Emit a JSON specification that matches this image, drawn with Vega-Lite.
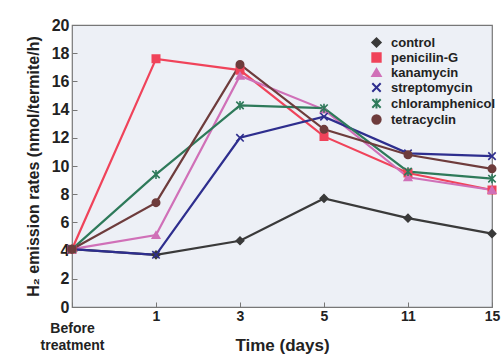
{
  "$schema": "https://vega.github.io/schema/vega-lite/v6.json",
  "width": 420,
  "height": 282,
  "autosize": {"type": "none"},
  "padding": {"left": 72, "top": 25, "right": 11, "bottom": 53},
  "background": "white",
  "config": {
    "font": "Liberation Sans, sans-serif",
    "view": {"fill": "#edf0f6", "stroke": "#777777", "strokeWidth": 1.2}
  },
  "data": {
    "values": [
      {"t": "Before", "s": "control", "v": 4.1},
      {"t": "1", "s": "control", "v": 3.7},
      {"t": "3", "s": "control", "v": 4.7},
      {"t": "5", "s": "control", "v": 7.7},
      {"t": "11", "s": "control", "v": 6.3},
      {"t": "15", "s": "control", "v": 5.2},
      {"t": "Before", "s": "penicilin-G", "v": 4.1},
      {"t": "1", "s": "penicilin-G", "v": 17.6},
      {"t": "3", "s": "penicilin-G", "v": 16.8},
      {"t": "5", "s": "penicilin-G", "v": 12.1},
      {"t": "11", "s": "penicilin-G", "v": 9.5},
      {"t": "15", "s": "penicilin-G", "v": 8.3},
      {"t": "Before", "s": "kanamycin", "v": 4.1},
      {"t": "1", "s": "kanamycin", "v": 5.1},
      {"t": "3", "s": "kanamycin", "v": 16.4},
      {"t": "5", "s": "kanamycin", "v": 14.0},
      {"t": "11", "s": "kanamycin", "v": 9.2},
      {"t": "15", "s": "kanamycin", "v": 8.3},
      {"t": "Before", "s": "streptomycin", "v": 4.1},
      {"t": "1", "s": "streptomycin", "v": 3.7},
      {"t": "3", "s": "streptomycin", "v": 12.0},
      {"t": "5", "s": "streptomycin", "v": 13.5},
      {"t": "11", "s": "streptomycin", "v": 10.9},
      {"t": "15", "s": "streptomycin", "v": 10.7},
      {"t": "Before", "s": "chloramphenicol", "v": 4.1},
      {"t": "1", "s": "chloramphenicol", "v": 9.4},
      {"t": "3", "s": "chloramphenicol", "v": 14.3},
      {"t": "5", "s": "chloramphenicol", "v": 14.1},
      {"t": "11", "s": "chloramphenicol", "v": 9.6},
      {"t": "15", "s": "chloramphenicol", "v": 9.1},
      {"t": "Before", "s": "tetracyclin", "v": 4.1},
      {"t": "1", "s": "tetracyclin", "v": 7.4},
      {"t": "3", "s": "tetracyclin", "v": 17.2},
      {"t": "5", "s": "tetracyclin", "v": 12.6},
      {"t": "11", "s": "tetracyclin", "v": 10.8},
      {"t": "15", "s": "tetracyclin", "v": 9.8}
    ]
  },
  "encoding": {
    "x": {
      "field": "t",
      "type": "ordinal",
      "sort": ["Before", "1", "3", "5", "11", "15"],
      "scale": {"type": "point", "padding": 0},
      "axis": {
        "title": "Time  (days)",
        "titleFontSize": 17,
        "titleFontWeight": "bold",
        "titleColor": "#222",
        "titlePadding": -15,
        "labelAngle": 0,
        "labelFontSize": 14,
        "labelFontWeight": "bold",
        "labelColor": "#222",
        "labelLineHeight": 17,
        "labelPadding": {"condition": {"test": "datum.value == 'Before'", "value": 19}, "value": 7},
        "labelExpr": "datum.value == 'Before' ? ['Before', 'treatment'] : datum.value",
        "tickSize": -5,
        "tickColor": "#777",
        "domain": false,
        "grid": false
      }
    },
    "y": {
      "field": "v",
      "type": "quantitative",
      "scale": {"domain": [0, 20], "nice": false},
      "axis": {
        "title": "H₂ emission rates  (nmol/termite/h)",
        "titleFontSize": 16,
        "titleFontWeight": "bold",
        "titleColor": "#222",
        "titlePadding": 10,
        "values": [0, 2, 4, 6, 8, 10, 12, 14, 16, 18, 20],
        "labelFontSize": 16,
        "labelFontWeight": "bold",
        "labelColor": "#222",
        "labelPadding": 8,
        "tickSize": -5,
        "tickColor": "#777",
        "domain": false,
        "grid": false
      }
    },
    "color": {
      "field": "s",
      "type": "nominal",
      "sort": ["control", "penicilin-G", "kanamycin", "streptomycin", "chloramphenicol", "tetracyclin"],
      "scale": {
        "domain": ["control", "penicilin-G", "kanamycin", "streptomycin", "chloramphenicol", "tetracyclin"],
        "range": ["#3a3a3a", "#f0435a", "#d070b8", "#2e2e8e", "#2e7a5a", "#6e3c3c"]
      },
      "legend": {
        "title": null,
        "orient": "none",
        "legendX": 298,
        "legendY": 11,
        "labelFontSize": 13,
        "labelFontWeight": "bold",
        "labelColor": "#222",
        "rowPadding": -2,
        "symbolSize": 70,
        "symbolStrokeWidth": 2,
        "labelOffset": 8
      }
    }
  },
  "layer": [
    {
      "mark": {"type": "line", "strokeWidth": 2.2},
      "encoding": {"detail": {"field": "s"}}
    },
    {
      "mark": {"type": "point", "filled": true, "size": 55, "strokeWidth": 1.6, "opacity": 1},
      "encoding": {
        "shape": {
          "field": "s",
          "type": "nominal",
          "sort": ["control", "penicilin-G", "kanamycin", "streptomycin", "chloramphenicol", "tetracyclin"],
          "scale": {
            "domain": ["control", "penicilin-G", "kanamycin", "streptomycin", "chloramphenicol", "tetracyclin"],
            "range": ["diamond", "square", "triangle-up", "M-1,-1L1,1M-1,1L1,-1", "M-1,-1L1,1M-1,1L1,-1M0,-1.2L0,1.2", "circle"]
          },
          "legend": null
        },
        "stroke": {
          "field": "s",
          "type": "nominal",
          "scale": {
            "domain": ["control", "penicilin-G", "kanamycin", "streptomycin", "chloramphenicol", "tetracyclin"],
            "range": ["#3a3a3a", "#f0435a", "#d070b8", "#2e2e8e", "#2e7a5a", "#6e3c3c"]
          },
          "legend": null
        }
      }
    }
  ]
}
